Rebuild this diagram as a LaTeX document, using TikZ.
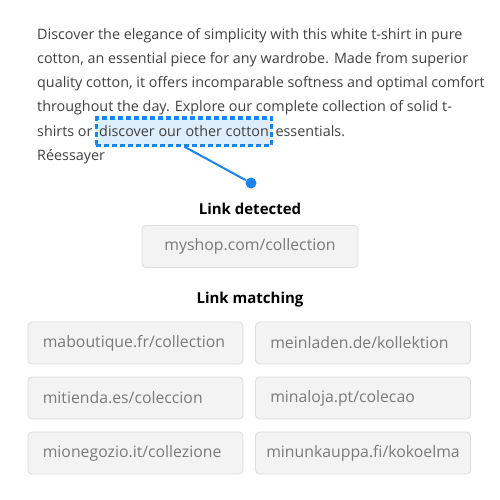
\documentclass[tikz,border=0pt]{standalone}
\usepackage{fontspec}
\setmainfont{Open Sans}
\usetikzlibrary{positioning}
\definecolor{linkblue}{HTML}{1A85F0}
\definecolor{lightblue}{HTML}{DDEDFC}
\definecolor{bodygray}{HTML}{404040}
\definecolor{boxfill}{HTML}{F3F3F3}
\definecolor{boxline}{HTML}{DCDCDC}
\definecolor{urlgray}{HTML}{7A7A7A}
\begin{document}
\begin{tikzpicture}[x=1pt,y=-1pt,
  body/.style={anchor=base west,inner sep=0pt,text=bodygray,font=\fontsize{14.35}{16}\selectfont},
  heading/.style={inner sep=0pt,font=\fontsize{15}{17}\selectfont\bfseries},
  urlbox/.style={draw=boxline,fill=boxfill,rounded corners=4pt,line width=0.8pt,minimum height=42pt,minimum width=215pt},
  urltext/.style={anchor=west,inner sep=0pt,text=urlgray,font=\fontsize{15.8}{18}\selectfont}]
\useasboundingbox (0,0) rectangle (500,500);
%texte
\node[body] (l1) at (37,40) {Discover the elegance of simplicity with this white t-shirt in pure};
\node[body] (l2) at (37,64) {cotton, an essential piece for any wardrobe. Made from superior};
\node[body] (l3) at (37,88) {quality cotton, it offers incomparable softness and optimal comfort};
\node[body] (l4) at (37,112) {throughout the day. Explore our complete collection of solid t-};
%lien
\node[body] (l5) at (37,136) {shirts or};
\node[body,draw=linkblue,fill=lightblue,line width=3pt,dash pattern=on 5pt off 3pt,inner xsep=3pt,text height=18pt,text depth=9pt,right=2pt of l5.base east,anchor=base west] (lien) {discover our other cotton};
\node[body,right=2pt of lien.base east,anchor=base west] (l5c) {essentials.};
\node[body] (retry) at (37,160) {Réessayer};
%fin
%connecteur
\node[circle,fill=linkblue,minimum size=11pt,inner sep=0pt] (dot) at (251,183) {};
\draw[linkblue,line width=2pt] (lien.south) -- (dot);
%fin
%lien detecte
\node[heading] (det) at (250,209) {Link detected};
\node[urlbox,minimum width=216pt] (myshop) at (250,246.5) {};
\node[text=urlgray,inner sep=0pt,font=\fontsize{15.8}{18}\selectfont] (myshoptxt) at (myshop) {myshop.com/collection};
%fin
%liens correspondants
\node[heading] (match) at (250,300) {Link matching};
\node[urlbox] (fr) at (135.5,343) {};
\node[urlbox] (de) at (363,343) {};
\node[urlbox] (es) at (135.5,398) {};
\node[urlbox] (pt) at (363,398) {};
\node[urlbox] (it) at (135.5,453) {};
\node[urlbox] (fi) at (363,453) {};
\node[urltext] (frtxt) at ([xshift=15pt]fr.west) {maboutique.fr/collection};
\node[urltext] (detxt) at ([xshift=15pt]de.west) {meinladen.de/kollektion};
\node[urltext] (estxt) at ([xshift=15pt]es.west) {mitienda.es/coleccion};
\node[urltext] (pttxt) at ([xshift=15pt]pt.west) {minaloja.pt/colecao};
\node[urltext] (ittxt) at ([xshift=15pt]it.west) {mionegozio.it/collezione};
\node[text=urlgray,inner sep=0pt,font=\fontsize{15.8}{18}\selectfont] (fitxt) at (fi) {minunkauppa.fi/kokoelma};
%fin
\end{tikzpicture}
\end{document}
